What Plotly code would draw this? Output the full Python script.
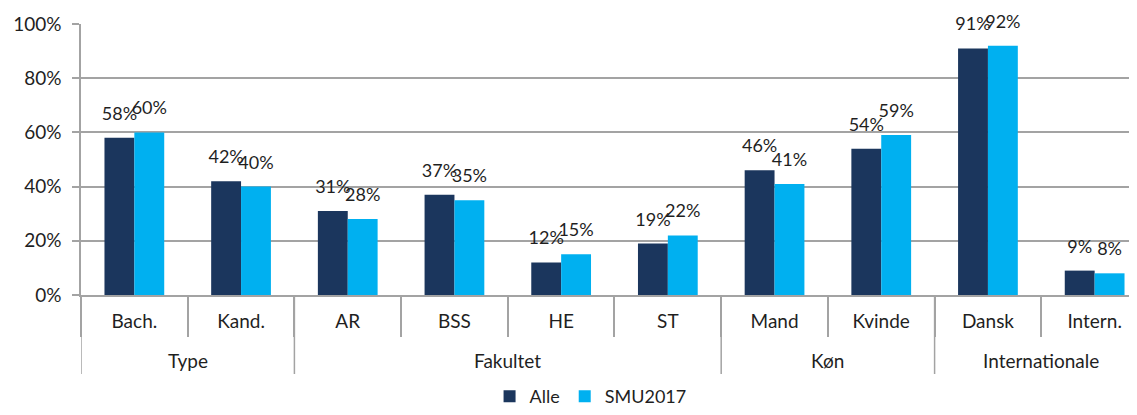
import plotly.graph_objects as go

groups = ["Type", "Type", "Fakultet", "Fakultet", "Fakultet", "Fakultet",
          "Køn", "Køn", "Internationale", "Internationale"]
categories = ["Bach.", "Kand.", "AR", "BSS", "HE", "ST", "Mand", "Kvinde", "Dansk", "Intern."]
alle = [58, 42, 31, 37, 12, 19, 46, 54, 91, 9]
smu2017 = [60, 40, 28, 35, 15, 22, 41, 59, 92, 8]
y_ticks = [0, 20, 40, 60, 80, 100]
y_ticklabels = ["0%", "20%", "40%", "60%", "80%", "100%"]

FONT = "Lato"
GRID = "#a3a3a3"
TEXT = "#1f1f1f"
series = [("Alle", alle, "#1b365d", "a"), ("SMU2017", smu2017, "#00b0f0", "b")]

fig = go.Figure()
for name, vals, color, og in series:
    fig.add_trace(go.Bar(
        x=categories, y=vals, name=name,
        marker=dict(color=color, line=dict(width=0)),
        offsetgroup=og, hoverinfo="skip",
    ))
for name, vals, color, og in series:
    fig.add_trace(go.Scatter(
        x=categories, y=vals, mode="markers+text",
        text=[f"{v}%" for v in vals], textposition="top center",
        textfont=dict(family=FONT, size=18, color=TEXT),
        marker=dict(size=20, opacity=0), offsetgroup=og,
        showlegend=False, hoverinfo="skip", cliponaxis=False,
    ))

# group labels and dividers on the category axis
group_names = []
for g in groups:
    if g not in group_names:
        group_names.append(g)
annotations = []
shapes = []
for g in group_names:
    idx = [i for i, gg in enumerate(groups) if gg == g]
    annotations.append(dict(
        x=(idx[0] + idx[-1]) / 2, xref="x", y=-0.2435, yref="paper",
        yanchor="middle", xanchor="center", text=g, showarrow=False,
        font=dict(family=FONT, size=19, color=TEXT),
    ))
    shapes.append(dict(
        type="line", xref="x", yref="paper", x0=idx[0] - 0.5, x1=idx[0] - 0.5,
        y0=0, y1=-0.2915, line=dict(color=GRID, width=1.5), layer="above",
    ))

fig.update_layout(
    width=1129, height=407,
    margin=dict(l=73, r=0, t=16, b=120, autoexpand=False),
    paper_bgcolor="white", plot_bgcolor="white",
    barmode="group", bargap=0.44, bargroupgap=0,
    scattermode="group", scattergap=0.44,
    font=dict(family=FONT, size=19, color=TEXT),
    legend=dict(orientation="h", x=0.516, xanchor="center", xref="container",
                y=0.0, yanchor="bottom", yref="container",
                font=dict(family=FONT, size=18, color=TEXT), itemwidth=30,
                traceorder="normal"),
    showlegend=True,
    annotations=annotations,
    shapes=shapes,
    yaxis=dict(
        range=[0, 100], tickmode="array", tickvals=y_ticks, ticktext=y_ticklabels,
        showgrid=True, gridcolor=GRID, gridwidth=1.5,
        showline=True, linecolor=GRID, linewidth=1.5,
        ticks="outside", ticklen=7, tickcolor=GRID, tickwidth=1.5,
        ticklabelstandoff=7,
        zeroline=False, tickfont=dict(family=FONT, size=19, color=TEXT),
        fixedrange=True, automargin=False,
    ),
    xaxis=dict(
        type="category", range=[-0.5, 9.397],
        showline=True, linecolor=GRID, linewidth=1.5,
        ticks="outside", tickson="boundaries", ticklen=40, tickcolor=GRID, tickwidth=1.5,
        showgrid=False, ticklabelstandoff=8,
        tickfont=dict(family=FONT, size=19, color=TEXT),
        fixedrange=True, automargin=False,
    ),
)
fig.write_html("out.html")
